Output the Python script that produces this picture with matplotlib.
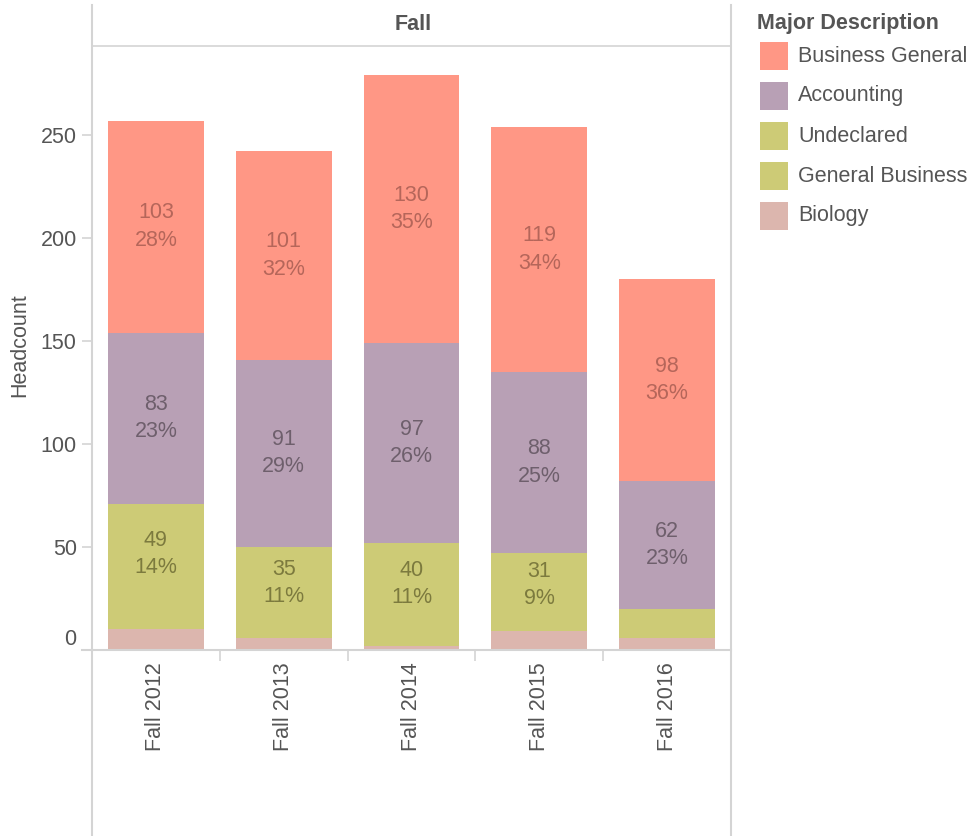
import matplotlib
matplotlib.use("Agg")
import matplotlib.pyplot as plt
from matplotlib.lines import Line2D
from matplotlib.patches import Rectangle

# values
terms = ["Fall 2012", "Fall 2013", "Fall 2014", "Fall 2015", "Fall 2016"]
biology = [10, 6, 2, 9, 6]
general_business = [12, 9, 10, 7, 14]
undeclared = [49, 35, 40, 31, 0]
accounting = [83, 91, 97, 88, 62]
business_general = [103, 101, 130, 119, 98]

undeclared_pct = [14, 11, 11, 9, None]
accounting_pct = [23, 29, 26, 25, 23]
business_general_pct = [28, 32, 35, 34, 36]

legend_names = ["Business General", "Accounting", "Undeclared", "General Business", "Biology"]
colors = {
    "Business General": "#FF9785",
    "Accounting": "#B8A0B5",
    "Undeclared": "#CDCB76",
    "General Business": "#CDCB76",
    "Biology": "#DCB6AE",
}
label_colors = {
    "Business General": "#B5665A",
    "Accounting": "#6E5F6C",
    "Undeclared": "#7C7A3E",
}

W, H = 975, 836
GRID = "#D4D4D4"
TXT = "#555555"
FS = 15.5

plt.rcParams["font.family"] = ["Liberation Sans", "DejaVu Sans"]

fig = plt.figure(figsize=(W / 100, H / 100), dpi=100)

x0, x1, ytop, yzero = 92, 731, 46, 650
ax = fig.add_axes([x0 / W, (H - yzero) / H, (x1 - x0) / W, (yzero - ytop) / H])

xs = list(range(len(terms)))
stack = [
    ("Biology", biology, None),
    ("General Business", general_business, None),
    ("Undeclared", undeclared, undeclared_pct),
    ("Accounting", accounting, accounting_pct),
    ("Business General", business_general, business_general_pct),
]
bottom = [0] * len(terms)
for name, vals, pct in stack:
    ax.bar(xs, vals, bottom=bottom, width=0.75, color=colors[name], linewidth=0)
    if pct is not None:
        for i, (v, p) in enumerate(zip(vals, pct)):
            if p is None:
                continue
            ax.text(i, bottom[i] + v / 2, f"{v}\n{p}%", ha="center", va="center",
                    fontsize=FS, color=label_colors[name], linespacing=1.4)
    bottom = [b + v for b, v in zip(bottom, vals)]

ax.set_xlim(-0.5, 4.5)
ax.set_ylim(0, (yzero - ytop) / 2.06)

for s in ["left", "right", "top"]:
    ax.spines[s].set_visible(False)
ax.spines["bottom"].set_color(GRID)
ax.spines["bottom"].set_linewidth(1.5)

ax.set_yticks([0, 50, 100, 150, 200, 250])
ax.tick_params(axis="y", length=7, width=1.2, color=GRID, labelsize=FS, labelcolor=TXT, pad=4)
for lab in ax.get_yticklabels():
    if lab.get_text() == "0":
        lab.set_va("bottom")

ax.set_xticks(xs)
ax.set_xticklabels(terms, rotation=90, va="top", ha="center")
ax.tick_params(axis="x", length=0, labelsize=FS, labelcolor=TXT, pad=9)
ax.set_xticks([0.5, 1.5, 2.5, 3.5], minor=True)
ax.tick_params(axis="x", which="minor", length=8, width=1.2, color=GRID)

# frame lines (left axis, right border, header separator)
def fline(xa, ya, xb, yb, lw=1.5):
    fig.add_artist(Line2D([xa / W, xb / W], [1 - ya / H, 1 - yb / H], color=GRID, lw=lw))

fline(x0, 5, x0, H)
fline(x1, 5, x1, H)
fline(x0, ytop, x1, ytop, lw=1.2)
fline(82, yzero, x0, yzero)

fig.text(413 / W, 1 - 25 / H, "Fall", ha="center", va="center", fontsize=FS,
         fontweight="bold", color=TXT)
fig.text(20 / W, 1 - 345 / H, "Headcount", ha="center", va="center", rotation=90,
         fontsize=FS, color=TXT)

# legend
fig.text(757 / W, 1 - 24 / H, "Major Description", ha="left", va="center",
         fontsize=FS, fontweight="bold", color=TXT)
for k, name in enumerate(legend_names):
    yc = 56 + 40 * k
    fig.add_artist(Rectangle((760 / W, 1 - (yc + 14) / H), 28 / W, 28 / H,
                             facecolor=colors[name], edgecolor="none",
                             transform=fig.transFigure))
    fig.text(798 / W, 1 - yc / H, name, ha="left", va="center", fontsize=FS, color=TXT)

fig.savefig("out.png", dpi=100)
